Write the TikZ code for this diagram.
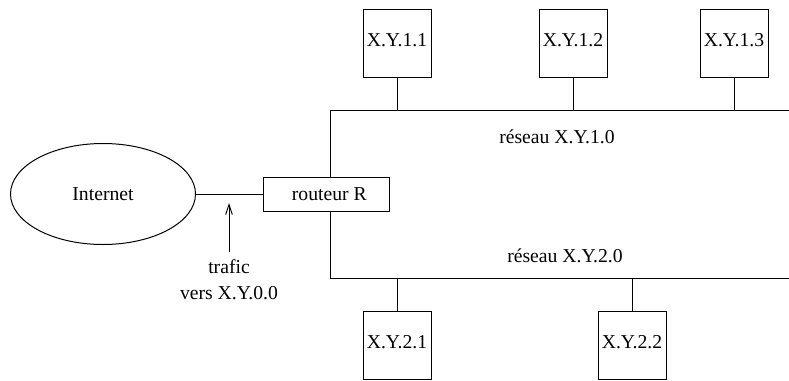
\documentclass[tikz,border=0pt]{standalone}
\usepackage{fontspec}
\setmainfont{Liberation Serif}
\usepackage{tikz}
\usetikzlibrary{arrows.meta,shapes.geometric}
\tikzset{
	txt/.style={font=\fontsize{11.8}{15.6}\selectfont},
	host/.style={txt, draw, rectangle, minimum width=40.8pt, minimum height=40.8pt, inner sep=1pt, text height=8pt, text depth=4.4pt},
	ligne/.style={line width=0.6pt},
}

\begin{document}
\begin{tikzpicture}[x=0.6pt, y=-0.6pt, ligne]
		%%%%% START %%%%%
		\useasboundingbox (0, 0) rectangle (789, 381);
		
		\node[txt, draw, ellipse, minimum width=111pt, minimum height=60.6pt] (internet) at (103, 194) {Internet};
		\node[txt, draw, rectangle, minimum width=75.6pt, minimum height=20.4pt, inner sep=1pt] (routeur) at (326, 194) {\hspace{4pt}routeur R};
		\draw (internet.east) -- (routeur.west);
		
		\coordinate (pointe) at (229, 203);
		\node[txt, align=center, anchor=north, inner sep=2pt] (trafic) at (229, 256) {trafic\\vers X.Y.0.0};
		\draw[-{Straight Barb[length=6pt, width=4pt]}, shorten <=2.4pt] (trafic.north) -- (pointe);
		
		\coordinate (b1w) at (330, 110);
		\coordinate (b1e) at (789, 110);
		\draw (b1w |- routeur.north) -- (b1w) -- (b1e);
		\node[txt] (net1) at (557, 137) {réseau X.Y.1.0};
		
		\coordinate (b2w) at (330, 278);
		\coordinate (b2e) at (789, 278);
		\draw (b2w |- routeur.south) -- (b2w) -- (b2e);
		\node[txt] (net2) at (565, 256) {réseau X.Y.2.0};
		
		\node[host] (h11) at (397, 43) {X.Y.1.1};
		\node[host] (h12) at (573, 43) {X.Y.1.2};
		\node[host] (h13) at (734, 43) {X.Y.1.3};
		\foreach \h in {h11, h12, h13}
			\draw (\h.south) -- (\h.south |- b1w);
		
		\node[host] (h21) at (397, 345) {X.Y.2.1};
		\node[host] (h22) at (632, 345) {X.Y.2.2};
		\foreach \h in {h21, h22}
			\draw (\h.north) -- (\h.north |- b2w);
		%%%%% END %%%%%
	\end{tikzpicture}
\end{document}
